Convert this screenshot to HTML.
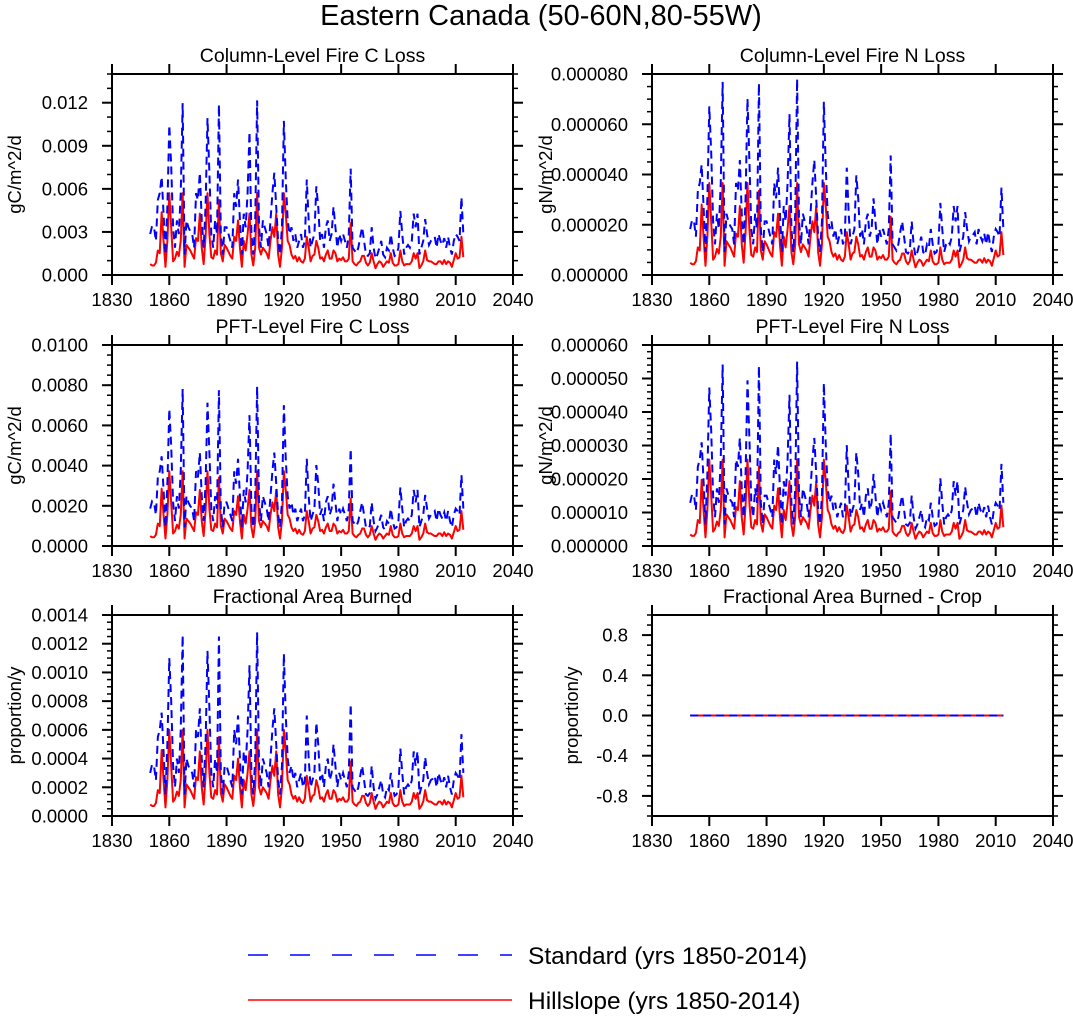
<!DOCTYPE html>
<html><head><meta charset="utf-8">
<style>
html,body{margin:0;padding:0;background:#fff;}
svg{display:block;font-family:"Liberation Sans",Helvetica,Arial,sans-serif;}
</style></head>
<body>
<svg id="chart" width="1073" height="1017" viewBox="0 0 1073 1017" xmlns="http://www.w3.org/2000/svg">
<rect width="1073" height="1017" fill="#fff"/>
<text x="541" y="25" font-size="29" text-anchor="middle">Eastern Canada (50-60N,80-55W)</text>
<g>
<line x1="248" y1="955" x2="512" y2="955" stroke="#0000ff" stroke-width="1.5" stroke-dasharray="20 22"/>
<text x="528" y="964" font-size="24.5">Standard (yrs 1850-2014)</text>
<line x1="248" y1="1000" x2="512" y2="1000" stroke="#ff0000" stroke-width="1.5"/>
<text x="528" y="1009" font-size="24.5">Hillslope (yrs 1850-2014)</text>
</g>
</svg>
<script>
// Base series shapes (relative units, 1850-2014)
const startYear = 1850;
const standardBase = [
3.0,3.6,3.5,2.5,5.5,6.0,7.2,4.5,1.5,5.0,
11.0,8.0,3.5,2.0,4.0,3.0,6.0,12.6,1.5,4.0,
3.5,3.2,3.0,2.0,6.0,5.5,7.5,4.0,2.0,5.0,
11.5,7.5,3.0,2.0,4.0,3.0,12.5,3.0,1.5,3.5,
3.5,3.0,2.5,2.0,6.0,5.0,7.0,4.0,1.5,4.5,
3.5,6.0,10.5,3.0,1.5,4.0,12.8,3.5,2.0,4.0,
3.5,3.0,2.0,4.0,6.0,7.5,5.0,2.5,1.5,3.5,
11.3,7.0,4.0,3.0,3.5,2.5,3.0,2.0,2.5,3.0,
2.0,2.5,7.0,4.0,2.0,2.5,3.0,6.5,5.0,2.5,
3.0,2.0,3.5,4.0,2.5,3.0,5.0,3.5,2.0,3.0,
2.5,3.0,2.5,2.0,3.0,7.8,2.0,1.8,1.6,2.0,
2.8,3.5,2.5,1.5,1.4,1.6,3.5,2.0,1.2,1.5,
2.0,2.5,1.5,1.3,2.0,1.8,3.0,2.0,1.4,1.5,
2.0,4.7,3.0,1.5,2.0,2.2,2.0,2.5,4.5,3.5,
4.5,1.5,2.0,2.5,4.1,3.0,2.2,2.5,2.6,2.8,
2.0,3.0,2.5,2.2,2.7,2.0,2.8,2.0,1.5,2.5,
3.0,2.8,2.5,5.7,3.0];
const hillslopeBase = [
0.8,0.7,0.7,0.9,1.8,1.6,4.6,2.5,0.6,2.5,
6.0,3.5,1.0,1.2,1.7,1.4,2.5,6.0,0.6,2.2,
2.0,1.8,1.5,1.2,2.7,2.5,4.5,2.0,0.8,2.8,
6.0,3.0,1.3,1.2,1.8,1.5,5.5,1.6,1.0,2.2,
2.0,1.7,1.4,1.2,2.8,2.5,4.0,2.0,0.6,2.5,
1.8,3.0,4.5,1.5,0.7,2.0,6.0,2.0,1.5,2.0,
1.8,1.6,1.2,2.5,3.5,2.8,4.5,1.5,0.6,2.0,
6.0,4.5,2.5,2.2,1.5,1.2,1.4,1.0,1.3,1.0,
0.9,1.2,2.8,2.0,1.0,1.4,1.5,2.5,2.0,1.2,
1.3,1.0,1.5,1.8,1.2,1.2,1.8,1.6,1.0,1.2,
1.1,1.3,1.0,1.0,1.2,3.8,1.0,0.8,0.7,0.9,
1.0,1.4,1.4,0.9,0.7,0.9,1.6,1.0,0.5,0.8,
1.0,0.9,0.6,0.8,1.0,0.9,1.6,0.9,0.7,0.7,
0.8,1.8,1.0,0.7,0.8,0.8,0.8,1.0,1.6,1.2,
1.6,0.5,0.7,1.0,1.8,1.1,1.0,1.0,0.9,0.8,
0.8,1.0,1.0,0.8,1.1,0.8,1.0,0.9,0.6,1.1,
1.6,1.2,1.3,2.8,1.3];
// Per-panel unit scale factors applied to base series
const panelTitles = ["Column-Level Fire C Loss","Column-Level Fire N Loss","PFT-Level Fire C Loss","PFT-Level Fire N Loss","Fractional Area Burned","Fractional Area Burned - Crop"];
const panelUnits = ["gC/m^2/d","gN/m^2/d","gC/m^2/d","gN/m^2/d","proportion/y","proportion/y"];
const panelScales = [9.5e-4, 6.1e-6, 6.2e-4, 4.3e-6, 1.0e-4, 0];
const yMins = [0,0,0,0,0,-1];
const yMaxs = [0.014,0.00008,0.01,0.00006,0.0014,1];
const yMajorSteps = [0.003,0.00002,0.002,0.00001,0.0002,0.4];
const yTickStarts = [0,0,0,0,0,-0.8];
const yTickEnds = [0.012,0.00008,0.01,0.00006,0.0014,0.8];
const yMinorSteps = [0.001,0.000005,0.0005,0.000002,0.00005,0.1];
const yDecimals = [3,6,4,6,4,1];
const xTicks = [1830,1860,1890,1920,1950,1980,2010,2040];

const NS = "http://www.w3.org/2000/svg";
const svg = document.getElementById('chart');
function mk(tag, attrs, parent){
  const e = document.createElementNS(NS, tag);
  for (const k in attrs) e.setAttribute(k, attrs[k]);
  (parent||svg).appendChild(e);
  return e;
}
const lefts = [112, 652];
const tops = [74, 345, 615];
const W = 401, H = 201;
for (let p = 0; p < 6; p++) {
  const x0 = lefts[p % 2], y0 = tops[Math.floor(p / 2)];
  const g = mk('g', {});
  
  
  const xs = yr => x0 + (yr - 1830) / 210 * W;
  const ys = v => y0 + H - (v - yMins[p]) / (yMaxs[p] - yMins[p]) * H;
  const std = standardBase.map(v => v * panelScales[p]);
  const hil = hillslopeBase.map(v => v * panelScales[p]);
  const ptsS = std.map((v, i) => xs(startYear + i).toFixed(2) + ',' + ys(v).toFixed(2)).join(' ');
  const ptsH = hil.map((v, i) => xs(startYear + i).toFixed(2) + ',' + ys(v).toFixed(2)).join(' ');
  const lh = mk('polyline', {points: ptsH, fill: 'none', stroke: '#ff0000', 'stroke-width': 2, 'stroke-linejoin': 'round'}, g);
  
  
  const ls = mk('polyline', {points: ptsS, fill: 'none', stroke: '#0000ff', 'stroke-width': 2, 'stroke-dasharray': '8 5'}, g);
  
  
  const fr = mk('rect', {x: x0, y: y0, width: W, height: H, fill: 'none', stroke: '#000', 'stroke-width': 2}, g);
  
  
  xTicks.forEach(t => {
    const x = xs(t);
    mk('line', {x1: x, y1: y0 + H, x2: x, y2: y0 + H + 10, stroke: '#000', 'stroke-width': 2}, g);
    mk('line', {x1: x, y1: y0, x2: x, y2: y0 - 10, stroke: '#000', 'stroke-width': 2}, g);
    const tl = mk('text', {x: x, y: y0 + H + 31, 'font-size': 18.5, 'text-anchor': 'middle'}, g);
    tl.textContent = t;
    
    
  });
  const nMin = Math.round((yMaxs[p] - yMins[p]) / yMinorSteps[p]);
  for (let k = 0; k <= nMin; k++) {
    const y = ys(yMins[p] + k * yMinorSteps[p]);
    mk('line', {x1: x0, y1: y, x2: x0 - 5, y2: y, stroke: '#000', 'stroke-width': 1.5}, g);
    mk('line', {x1: x0 + W, y1: y, x2: x0 + W + 5, y2: y, stroke: '#000', 'stroke-width': 1.5}, g);
  }
  const nMaj = Math.round((yTickEnds[p] - yTickStarts[p]) / yMajorSteps[p]);
  for (let k = 0; k <= nMaj; k++) {
    const v = yTickStarts[p] + k * yMajorSteps[p];
    const y = ys(v);
    mk('line', {x1: x0, y1: y, x2: x0 - 10, y2: y, stroke: '#000', 'stroke-width': 2}, g);
    mk('line', {x1: x0 + W, y1: y, x2: x0 + W + 10, y2: y, stroke: '#000', 'stroke-width': 2}, g);
    const tl = mk('text', {x: x0 - 24, y: y + 6.5, 'font-size': 18.5, 'text-anchor': 'end'}, g);
    tl.textContent = v.toFixed(yDecimals[p]);
    
    
  }
  const tt = mk('text', {x: x0 + W / 2, y: y0 - 12, 'font-size': 19.5, 'text-anchor': 'middle'}, g);
  tt.textContent = panelTitles[p];
  
  
  const lx = p === 5 ? x0 - 74 : (p % 2 === 0 ? x0 - 91 : x0 - 100);
  const yl = mk('text', {x: lx, y: y0 + H / 2, 'font-size': 18.5, 'text-anchor': 'middle', transform: 'rotate(-90 ' + lx + ' ' + (y0 + H / 2) + ')'}, g);
  yl.textContent = panelUnits[p];
  
  
}
</script>
</body></html>
